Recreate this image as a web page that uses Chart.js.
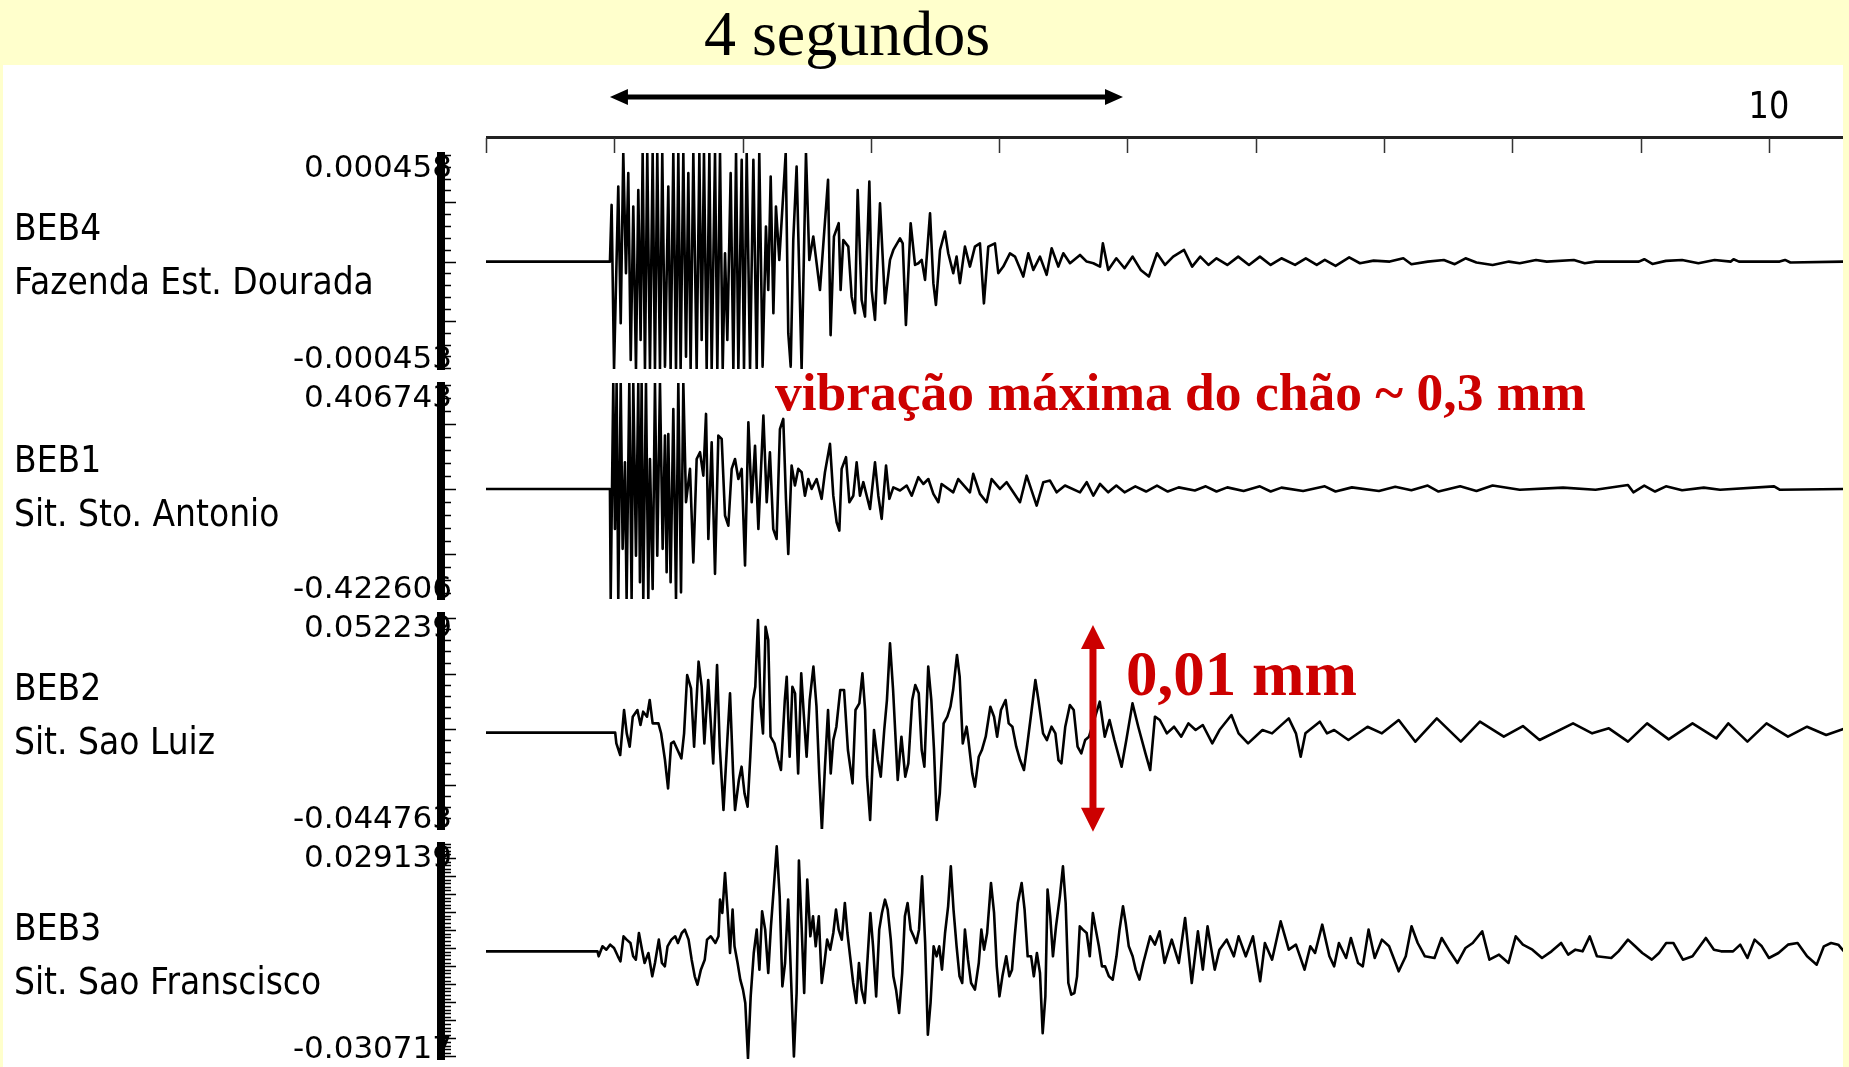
<!DOCTYPE html>
<html><head><meta charset="utf-8">
<script src="https://cdn.jsdelivr.net/npm/chart.js@4.4.1/dist/chart.umd.min.js"></script>
<style>
html,body{margin:0;padding:0;}
body{width:1849px;height:1067px;background:#ffffcc;position:relative;overflow:hidden;}
#white{position:absolute;left:3px;top:65px;width:1840px;height:1002px;background:#ffffff;}
canvas{position:absolute;left:0;top:0;}
</style></head><body>
<div id="white"></div>
<canvas id="c0" width="1849" height="1067"></canvas>
<canvas id="c1" width="1849" height="1067"></canvas>
<canvas id="c2" width="1849" height="1067"></canvas>
<canvas id="c3" width="1849" height="1067"></canvas>
<script>
// ---------- data ----------
const stationCodes = ['BEB4', 'BEB1', 'BEB2', 'BEB3'];
const stationNames = ['Fazenda Est. Dourada', 'Sit. Sto. Antonio', 'Sit. Sao Luiz', 'Sit. Sao Franscisco'];
const yMax = [0.000458, 0.406743, 0.052239, 0.029139];
const yMin = [-0.000453, -0.422606, -0.044763, -0.030717];
const yTopLabels = ['0.000458', '0.406743', '0.052239', '0.029139'];
const yBottomLabels = ['-0.000453', '-0.422606', '-0.044763', '-0.030717'];
const yMinorStep = [0.00005, 0.05, 0.005, 0.001];
const timeMin = 0, timeMax = 10.577;
const timeTicks = [0, 1, 2, 3, 4, 5, 6, 7, 8, 9, 10];
const timeTickLabels = ['', '', '', '', '', '', '', '', '', '', '10'];
const durationSpan = [0.966, 4.965];          // "4 segundos" arrow (s)
const durationLabel = '4 segundos';
const ampArrow = {t: 4.731, top: 0.0468, bottom: -0.046}; // red arrow on BEB2
const noteMax = 'vibração máxima do chão ~ 0,3 mm';
const noteAmp = '0,01 mm';

const beb4Time = [0,0.966,0.979,0.998,1.031,1.050,1.070,1.091,1.109,1.128,1.148,1.169,1.187,1.205,1.221,1.239,1.257,1.278,1.299,1.317,1.335,1.356,1.374,1.395,1.421,1.439,1.460,1.481,1.499,1.517,1.538,1.559,1.577,1.595,1.616,1.642,1.663,1.681,1.699,1.720,1.741,1.759,1.785,1.803,1.824,1.845,1.863,1.881,1.907,1.928,1.949,1.967,1.993,2.011,2.032,2.058,2.084,2.110,2.130,2.156,2.182,2.200,2.219,2.240,2.260,2.286,2.336,2.356,2.375,2.395,2.421,2.460,2.494,2.520,2.551,2.603,2.666,2.686,2.712,2.749,2.764,2.785,2.824,2.850,2.876,2.897,2.928,2.954,2.988,3.006,3.032,3.071,3.110,3.128,3.149,3.175,3.227,3.248,3.273,3.310,3.344,3.370,3.396,3.422,3.461,3.487,3.507,3.539,3.577,3.603,3.642,3.668,3.694,3.733,3.772,3.811,3.850,3.881,3.915,3.967,3.993,4.032,4.084,4.123,4.188,4.227,4.266,4.318,4.370,4.409,4.461,4.500,4.552,4.630,4.682,4.734,4.786,4.808,4.850,4.913,4.977,5.040,5.103,5.167,5.230,5.293,5.356,5.441,5.504,5.567,5.631,5.694,5.778,5.863,5.947,6.032,6.116,6.200,6.306,6.390,6.475,6.538,6.622,6.728,6.812,6.918,7.044,7.150,7.213,7.340,7.466,7.551,7.635,7.720,7.846,7.973,8.057,8.184,8.268,8.479,8.564,8.648,8.986,9.028,9.091,9.197,9.323,9.450,9.576,9.703,9.724,9.766,10.083,10.125,10.167,10.589];
const beb4Amp = [0,0,2.39e-4,-4.53e-4,3.17e-4,-2.60e-4,4.58e-4,-0.49e-4,3.73e-4,-4.15e-4,2.32e-4,-4.53e-4,3.02e-4,-3.31e-4,4.58e-4,-4.53e-4,4.58e-4,-4.53e-4,4.58e-4,-4.53e-4,4.58e-4,-4.53e-4,4.58e-4,-4.43e-4,3.17e-4,-4.53e-4,4.58e-4,-4.53e-4,4.58e-4,-4.53e-4,4.58e-4,-4.01e-4,3.73e-4,-4.53e-4,4.58e-4,-4.53e-4,4.58e-4,-3.31e-4,4.58e-4,-4.53e-4,4.58e-4,-4.53e-4,4.58e-4,-4.53e-4,4.58e-4,-4.53e-4,0.35e-4,-3.31e-4,3.73e-4,-4.53e-4,4.58e-4,-4.53e-4,4.29e-4,-4.53e-4,4.58e-4,-4.53e-4,4.29e-4,-4.53e-4,4.58e-4,-4.43e-4,1.48e-4,-1.20e-4,3.59e-4,-2.18e-4,2.32e-4,0.07e-4,4.58e-4,-3.02e-4,-4.43e-4,0.91e-4,4.01e-4,-4.53e-4,4.58e-4,0.07e-4,1.06e-4,-1.20e-4,3.45e-4,-3.10e-4,1.06e-4,1.62e-4,-1.20e-4,0.91e-4,0.63e-4,-1.48e-4,-2.18e-4,3.02e-4,-1.62e-4,-2.32e-4,3.38e-4,-1.20e-4,-2.46e-4,2.46e-4,-1.76e-4,-0.91e-4,0.07e-4,0.49e-4,0.98e-4,0.77e-4,-2.67e-4,1.62e-4,-0.14e-4,-0.07e-4,0.07e-4,-0.77e-4,2.04e-4,-0.91e-4,-1.83e-4,0.49e-4,1.27e-4,0.35e-4,-0.49e-4,0.21e-4,-0.91e-4,0.63e-4,-0.21e-4,0.63e-4,0.77e-4,-1.76e-4,0.63e-4,0.77e-4,-0.49e-4,-0.21e-4,0.35e-4,0.21e-4,-0.63e-4,0.35e-4,-0.35e-4,0.21e-4,-0.56e-4,0.56e-4,-0.21e-4,0.35e-4,-0.07e-4,0.28e-4,0,-0.07e-4,-0.21e-4,0.77e-4,-0.35e-4,0.14e-4,-0.28e-4,0.21e-4,-0.35e-4,-0.63e-4,0.35e-4,-0.14e-4,0.21e-4,0.49e-4,-0.21e-4,0.21e-4,-0.14e-4,0.14e-4,-0.14e-4,0.21e-4,-0.14e-4,0.21e-4,-0.14e-4,0.14e-4,-0.14e-4,0.14e-4,-0.14e-4,0.07e-4,-0.18e-4,0.18e-4,-0.07e-4,0.04e-4,0,0.14e-4,-0.11e-4,0,0.07e-4,-0.11e-4,0.14e-4,-0.04e-4,-0.14e-4,0,-0.07e-4,0.07e-4,0,0.07e-4,-0.07e-4,0,0,0.10e-4,-0.10e-4,0.03e-4,0.07e-4,-0.07e-4,0.07e-4,0,0.10e-4,0,0,0.07e-4,-0.04e-4,0];

const beb1Time = [0,0.966,0.972,0.992,1.005,1.018,1.031,1.050,1.065,1.083,1.096,1.117,1.135,1.148,1.169,1.187,1.200,1.213,1.226,1.247,1.265,1.278,1.299,1.317,1.335,1.356,1.377,1.395,1.408,1.421,1.439,1.460,1.481,1.499,1.520,1.538,1.559,1.590,1.616,1.642,1.668,1.694,1.715,1.733,1.759,1.785,1.811,1.837,1.863,1.889,1.915,1.941,1.967,1.993,2.019,2.045,2.071,2.097,2.123,2.162,2.188,2.213,2.239,2.265,2.291,2.317,2.338,2.356,2.382,2.408,2.434,2.460,2.486,2.512,2.538,2.577,2.616,2.642,2.681,2.707,2.733,2.754,2.772,2.806,2.832,2.863,2.889,2.915,2.941,2.993,3.032,3.058,3.084,3.118,3.144,3.175,3.227,3.279,3.318,3.370,3.409,3.448,3.487,3.526,3.551,3.642,3.681,3.772,3.798,3.850,3.902,3.941,4.006,4.058,4.162,4.214,4.292,4.344,4.396,4.448,4.513,4.630,4.682,4.734,4.786,4.850,4.913,4.977,5.061,5.145,5.230,5.314,5.399,5.525,5.610,5.694,5.778,5.905,6.032,6.116,6.200,6.369,6.538,6.622,6.749,6.960,7.087,7.213,7.340,7.424,7.593,7.720,7.846,8.057,8.395,8.648,8.901,8.943,9.028,9.112,9.197,9.323,9.492,9.619,10.040,10.083,10.589];
const beb1Amp = [0,0,-0.4226,0.4067,-0.154,0.4067,-0.4226,0.4067,-0.230,0.102,-0.4226,0.4067,-0.4226,0.4067,-0.256,0.4067,-0.358,0.4067,-0.4226,0.4067,-0.4226,0.115,-0.384,0.4067,-0.256,0.4067,-0.230,0.205,-0.320,0.211,-0.358,0.307,-0.4226,0.4067,-0.397,0.4067,-0.051,0.077,-0.282,0.115,0.141,0.051,0.288,-0.192,0.179,-0.326,0.205,0.192,-0.102,-0.141,0.077,0.115,0.038,0.077,-0.294,0.256,-0.051,0.166,-0.154,0.282,-0.051,0.141,-0.154,-0.192,0.230,0.269,-0.038,-0.250,0.090,0.013,0.077,0.064,-0.026,0.038,0,0.038,-0.038,0.064,0.173,-0.026,-0.128,-0.160,0.077,0.122,-0.051,-0.026,0.102,-0.026,0.026,-0.077,0.102,-0.026,-0.115,0.090,-0.038,0.006,-0.006,0.013,-0.026,0.045,0.019,0.038,-0.019,-0.051,0.019,-0.013,0.038,-0.013,0.058,-0.019,-0.051,0.038,0,0.026,-0.051,0.051,-0.064,0.026,0.032,-0.013,0.013,-0.013,0.026,-0.026,0.019,-0.013,0.013,-0.013,0.010,-0.010,0.013,-0.010,0.006,-0.006,0.010,-0.010,0.006,-0.008,0.010,-0.010,0.005,-0.008,0.010,-0.010,0.006,-0.008,0.008,-0.005,0.013,-0.010,0.010,-0.008,0.013,-0.003,0.005,-0.003,0.015,-0.013,0.013,-0.010,0.010,-0.005,0.005,-0.003,0.010,-0.003,0];

const beb2Time = [0,1.007,1.016,1.046,1.076,1.097,1.120,1.144,1.180,1.204,1.225,1.255,1.276,1.299,1.344,1.365,1.395,1.419,1.443,1.464,1.493,1.523,1.544,1.568,1.598,1.622,1.657,1.681,1.702,1.732,1.771,1.801,1.822,1.851,1.881,1.902,1.926,1.941,1.971,1.992,2.015,2.039,2.060,2.081,2.099,2.120,2.141,2.159,2.179,2.200,2.218,2.248,2.278,2.299,2.329,2.344,2.367,2.388,2.409,2.433,2.457,2.478,2.499,2.523,2.552,2.576,2.597,2.618,2.642,2.666,2.687,2.707,2.731,2.761,2.791,2.821,2.857,2.880,2.910,2.934,2.955,2.970,2.994,3.024,3.053,3.077,3.104,3.125,3.149,3.173,3.209,3.238,3.268,3.292,3.322,3.346,3.373,3.396,3.417,3.447,3.471,3.492,3.513,3.537,3.567,3.596,3.620,3.641,3.671,3.692,3.716,3.746,3.760,3.790,3.811,3.841,3.865,3.895,3.931,3.960,3.984,4.014,4.050,4.074,4.103,4.133,4.163,4.193,4.217,4.253,4.282,4.306,4.342,4.372,4.408,4.438,4.462,4.485,4.515,4.551,4.581,4.611,4.640,4.670,4.700,4.784,4.823,4.860,4.898,4.954,4.991,5.039,5.084,5.140,5.177,5.214,5.252,5.307,5.363,5.419,5.475,5.531,5.587,5.661,5.717,5.810,5.866,5.940,6.052,6.127,6.257,6.313,6.350,6.387,6.499,6.555,6.611,6.722,6.871,6.983,7.114,7.244,7.411,7.598,7.747,7.933,8.082,8.212,8.473,8.622,8.752,8.901,9.050,9.218,9.404,9.590,9.683,9.832,9.981,10.148,10.297,10.446,10.595];
const beb2Amp = [-0.0015,-0.0015,-0.00630,-0.01154,0.00867,-0.00181,-0.00780,0.00567,0.00867,0.00193,0.00792,0.00567,0.01316,0.00268,0.00268,-0.00181,-0.01379,-0.02651,-0.00630,-0.00555,-0.00930,-0.01304,-0.00181,0.02439,0.01840,-0.00780,0.03038,0.01915,-0.00630,0.02214,-0.01528,0.02889,-0.00780,-0.03624,-0.00480,0.01615,-0.01978,-0.03624,-0.02277,-0.01678,-0.02876,-0.03475,-0.01229,0.01316,0.01915,0.04909,0.01016,-0.00181,0.04609,0.04010,-0.00331,-0.00630,-0.01379,-0.01828,0.01316,0.02364,-0.01229,0.01915,0.01615,-0.01978,0.02514,0.00567,-0.01229,0.01316,0.02814,0.01016,-0.01978,-0.04522,-0.01678,0.00867,-0.01978,-0.00480,0.00118,0.01765,0.01765,-0.00930,-0.02427,0.00867,0.01166,0.02514,0.00867,-0.02127,-0.04073,-0.00031,-0.01379,-0.02127,-0.00031,0.01316,0.03861,0.01765,-0.02277,-0.00331,-0.02127,-0.01528,0.01316,0.01990,0.01615,-0.00930,-0.01678,0.02814,0.01316,-0.00930,-0.04073,-0.02876,0.00268,0.00567,0.01016,0.01765,0.03338,0.02364,-0.00630,0.00118,-0.00480,-0.01978,-0.02577,-0.01229,-0.00930,-0.00331,0.01016,0.00567,-0.00331,0.00867,0.01316,0.00268,0.00118,-0.00780,-0.01379,-0.01828,-0.00780,0.00867,0.02214,0.01316,-0.00181,-0.00480,0.00118,-0.00181,-0.01379,-0.01528,0.00118,0.01091,0.00867,-0.00780,-0.01079,-0.00480,-0.00331,0.01242,-0.00331,0.00418,-0.00480,-0.01678,-0.00480,0.01166,0.00118,-0.01079,-0.01828,0.00567,0.00418,-0.00181,0.00118,-0.00331,0.00268,-0.00031,0.00193,-0.00630,-0.00031,0.00642,-0.00181,-0.00630,-0.00031,-0.00181,0.00493,-0.00181,-0.01229,-0.00181,0.00343,-0.00181,-0.00031,-0.00480,0.00118,-0.00181,0.00418,-0.00555,0.00493,-0.00555,0.00343,-0.00331,0.00148,-0.00480,0.00268,-0.00181,0.00043,-0.00555,0.00268,-0.00450,0.00268,-0.00405,0.00268,-0.00555,0.00268,-0.00331,0.00118,-0.00256,0.00043];

const beb3Time = [0,0.869,0.878,0.908,0.938,0.968,0.998,1.028,1.048,1.072,1.096,1.126,1.147,1.168,1.192,1.216,1.236,1.266,1.296,1.317,1.347,1.371,1.394,1.415,1.445,1.475,1.496,1.526,1.550,1.579,1.603,1.627,1.648,1.675,1.705,1.723,1.752,1.788,1.812,1.824,1.842,1.863,1.884,1.902,1.922,1.937,1.961,1.982,2.003,2.021,2.042,2.063,2.087,2.110,2.131,2.152,2.176,2.200,2.221,2.242,2.266,2.289,2.310,2.331,2.355,2.379,2.400,2.421,2.439,2.459,2.480,2.504,2.528,2.549,2.570,2.594,2.617,2.638,2.659,2.683,2.707,2.728,2.749,2.773,2.797,2.817,2.838,2.862,2.886,2.907,2.928,2.952,2.975,2.996,3.017,3.041,3.065,3.086,3.110,3.131,3.155,3.175,3.196,3.220,3.244,3.265,3.286,3.310,3.333,3.354,3.375,3.399,3.423,3.444,3.465,3.489,3.512,3.533,3.554,3.578,3.602,3.623,3.644,3.668,3.691,3.712,3.733,3.757,3.781,3.811,3.841,3.861,3.882,3.906,3.936,3.960,3.981,4.002,4.025,4.055,4.079,4.100,4.121,4.145,4.175,4.198,4.222,4.249,4.270,4.294,4.318,4.339,4.360,4.377,4.398,4.419,4.443,4.473,4.497,4.518,4.539,4.562,4.586,4.607,4.628,4.652,4.682,4.706,4.730,4.753,4.777,4.801,4.825,4.855,4.885,4.914,4.938,4.965,4.986,5.010,5.040,5.064,5.093,5.123,5.177,5.214,5.251,5.289,5.345,5.400,5.449,5.501,5.549,5.587,5.624,5.680,5.717,5.773,5.829,5.866,5.922,5.978,6.034,6.071,6.127,6.194,6.257,6.313,6.380,6.425,6.462,6.518,6.574,6.611,6.648,6.704,6.741,6.797,6.834,6.879,6.927,6.983,7.039,7.114,7.169,7.214,7.262,7.318,7.393,7.449,7.504,7.572,7.635,7.691,7.765,7.821,7.896,7.970,8.026,8.082,8.156,8.231,8.305,8.380,8.435,8.491,8.547,8.603,8.659,8.771,8.827,8.901,8.957,9.013,9.087,9.143,9.199,9.255,9.329,9.404,9.508,9.571,9.627,9.720,9.776,9.832,9.888,9.944,10.000,10.074,10.148,10.223,10.297,10.372,10.428,10.484,10.540,10.595];
const beb3Amp = [-0.00088,-0.00088,-0.00226,0.00051,-0.00042,0.00097,0.00005,-0.00226,-0.00365,0.00328,0.00236,0.00143,-0.00226,-0.00319,0.00420,-0.00042,-0.00411,-0.00134,-0.00781,-0.00411,0.00236,-0.00411,-0.00504,0.00051,0.00236,0.00328,0.00143,0.00420,0.00513,0.00236,-0.00319,-0.00781,-0.01012,-0.00596,-0.00319,0.00236,0.00328,0.00143,0.00328,0.01344,0.00975,0.02084,0.00975,-0.00134,0.01067,0.00051,-0.00411,-0.00873,-0.01150,-0.01520,-0.0305,-0.01335,-0.00134,0.00513,-0.00596,0.01021,0.00513,-0.00688,0.00605,0.01622,0.02823,0.01437,-0.01058,-0.00411,0.01344,-0.00966,-0.02998,-0.01243,0.02430,0.00698,-0.01243,0.01899,0.00328,0.00882,0.00051,0.00882,-0.00966,-0.00411,0.00236,-0.00042,0.00420,0.01067,0.00513,0.00236,0.01252,0.00420,-0.00226,-0.00966,-0.01520,-0.00411,-0.01150,-0.01520,-0.00226,0.00975,0.00051,-0.01335,0.00513,0.00975,0.01344,0.01067,0.00236,-0.00781,-0.01150,-0.01798,-0.00688,0.00882,0.01252,0.00513,0.00328,0.00143,0.00513,0.01991,0.00143,-0.02398,-0.01520,0.00051,-0.00226,0.00051,-0.00596,0.00420,0.01160,0.02268,0.01067,0.00051,-0.00781,-0.00966,0.00513,-0.00319,-0.00966,-0.01150,-0.00411,0.00513,-0.00042,0.00420,0.01806,0.00975,-0.00504,-0.01335,-0.00781,-0.00226,-0.00781,-0.00596,0.00328,0.01252,0.01806,0.01067,-0.00226,-0.00226,-0.00781,-0.00134,-0.00688,-0.02356,-0.01335,0.01622,0.00882,-0.00226,0.00605,0.01437,0.02268,0.01252,-0.00966,-0.01289,-0.01243,-0.00781,0.00605,0.00513,0.00420,-0.00226,0.00975,0.00513,0.00051,-0.00504,-0.00504,-0.00781,-0.00873,-0.00226,0.00513,0.01160,0.00698,0.00051,-0.00226,-0.00596,-0.00873,-0.00411,0.00328,0.00097,0.00467,-0.00411,0.00236,-0.00411,0.00836,-0.00966,0.00467,-0.00596,0.00605,-0.00596,-0.00042,0.00236,-0.00226,0.00328,-0.00226,0.00328,-0.00919,0.00143,-0.00319,0.00744,-0.00042,0.00097,-0.00596,0.00051,-0.00134,0.00651,-0.00226,-0.00504,0.00143,-0.00273,0.00282,-0.00411,-0.00504,0.00513,-0.00273,0.00236,0.00051,-0.00642,-0.00226,0.00605,0.00143,-0.00226,-0.00273,0.00282,-0.00042,-0.00411,0.00005,0.00143,0.00467,-0.00319,-0.00180,-0.00411,0.00328,0.00097,-0.00042,-0.00273,-0.00088,0.00143,-0.00180,-0.00042,-0.00088,0.00328,-0.00226,-0.00273,-0.00088,0.00236,0.00051,-0.00134,-0.00319,-0.00134,0.00143,0.00143,-0.00319,-0.00226,0.00282,-0.00042,-0.00088,-0.00088,0.00097,-0.00273,0.00236,0.00051,-0.00273,-0.00134,0.00097,0.00143,-0.00226,-0.00457,0.00051,0.00143,0.00097,-0.00134];

const traceTimes = [beb4Time, beb1Time, beb2Time, beb3Time];
const traceAmps = [beb4Amp, beb1Amp, beb2Amp, beb3Amp];

// ---------- layout (pixels, not data) ----------
const W = 1849, H = 1067;
const plotLeft = 486, plotRight = 1843;
const panelTop = [153, 383, 613, 843];
const panelH = 216;
const labelBase = [87, 89, 87, 97];
const RED = '#cc0000';

function stretchedText(ctx, txt, x, y, font, sy, align) {
  ctx.save();
  ctx.font = font;
  ctx.textAlign = align || 'left';
  ctx.textBaseline = 'alphabetic';
  ctx.translate(x, y);
  ctx.scale(1, sy);
  ctx.fillText(txt, 0, 0);
  ctx.restore();
}

function decor(i) {
  return {
    id: 'decor' + i,
    afterDraw(chart) {
      const ctx = chart.ctx, xs = chart.scales.x, ys = chart.scales.y, a = chart.chartArea;
      ctx.save();
      ctx.fillStyle = '#000';
      // station labels
      stretchedText(ctx, stationCodes[i], 14, a.top + labelBase[i], '33px "DejaVu Sans"', 1.13);
      stretchedText(ctx, stationNames[i], 14, a.top + labelBase[i] + 54, '33px "DejaVu Sans"', 1.13);
      // y range labels
      ctx.font = '31px "DejaVu Sans"';
      ctx.textAlign = 'right';
      ctx.textBaseline = 'alphabetic';
      ctx.fillText(yTopLabels[i], 452, ys.getPixelForValue(yMax[i]) + 24);
      ctx.fillText(yBottomLabels[i], 452, ys.getPixelForValue(yMin[i]) - 1);
      // axis bar
      const yt = ys.getPixelForValue(yMax[i]), yb = ys.getPixelForValue(yMin[i]);
      ctx.fillRect(437, yt - 1, 8, yb - yt + 2);
      // minor ticks
      ctx.strokeStyle = '#000';
      ctx.lineWidth = 1.5;
      const st = yMinorStep[i];
      const k0 = Math.ceil(yMin[i] / st), k1 = Math.floor(yMax[i] / st);
      ctx.beginPath();
      for (let k = k0; k <= k1; k++) {
        const py = Math.round(ys.getPixelForValue(k * st)) + 0.5;
        const len = (k % 5 === 0) ? 11 : 6;
        ctx.moveTo(445, py); ctx.lineTo(445 + len, py);
      }
      ctx.stroke();

      if (i === 0) {
        // top time axis
        ctx.fillStyle = '#222';
        ctx.fillRect(xs.getPixelForValue(timeMin), 136, xs.getPixelForValue(timeMax) - xs.getPixelForValue(timeMin), 3);
        ctx.strokeStyle = '#333';
        ctx.lineWidth = 1.5;
        ctx.beginPath();
        timeTicks.forEach(t => {
          const px = Math.round(xs.getPixelForValue(t)) + 0.5;
          ctx.moveTo(px, 138); ctx.lineTo(px, 153);
        });
        ctx.stroke();
        ctx.fillStyle = '#000';
        timeTicks.forEach((t, k) => {
          if (timeTickLabels[k]) stretchedText(ctx, timeTickLabels[k], xs.getPixelForValue(t), 118, '32px "DejaVu Sans"', 1.14, 'center');
        });
        // 4 segundos arrow
        const x1 = xs.getPixelForValue(durationSpan[0]), x2 = xs.getPixelForValue(durationSpan[1]);
        const ay = 97;
        ctx.fillStyle = '#000';
        ctx.fillRect(x1 + 12, ay - 2.5, x2 - x1 - 24, 5);
        ctx.beginPath();
        ctx.moveTo(x1, ay); ctx.lineTo(x1 + 18, ay - 8); ctx.lineTo(x1 + 18, ay + 8); ctx.closePath();
        ctx.moveTo(x2, ay); ctx.lineTo(x2 - 18, ay - 8); ctx.lineTo(x2 - 18, ay + 8); ctx.closePath();
        ctx.fill();
        ctx.font = '64px "Liberation Serif"';
        ctx.textAlign = 'center';
        ctx.textBaseline = 'alphabetic';
        ctx.fillText(durationLabel, 847, 55);
      }
      if (i === 1) {
        ctx.fillStyle = RED;
        ctx.font = 'bold 53.5px "Liberation Serif"';
        ctx.textAlign = 'left';
        ctx.textBaseline = 'alphabetic';
        ctx.fillText(noteMax, 775, 410);
      }
      if (i === 2) {
        const ax = xs.getPixelForValue(ampArrow.t);
        const y1 = ys.getPixelForValue(ampArrow.top), y2 = ys.getPixelForValue(ampArrow.bottom);
        ctx.fillStyle = RED;
        ctx.fillRect(ax - 3.5, y1 + 18, 7, y2 - y1 - 36);
        ctx.beginPath();
        ctx.moveTo(ax, y1); ctx.lineTo(ax - 12, y1 + 24); ctx.lineTo(ax + 12, y1 + 24); ctx.closePath();
        ctx.moveTo(ax, y2); ctx.lineTo(ax - 12, y2 - 24); ctx.lineTo(ax + 12, y2 - 24); ctx.closePath();
        ctx.fill();
        ctx.font = 'bold 63px "Liberation Serif"';
        ctx.textAlign = 'left';
        ctx.textBaseline = 'alphabetic';
        ctx.fillText(noteAmp, 1126, 695);
      }
      ctx.restore();
    }
  };
}

for (let i = 0; i < 4; i++) {
  const pts = traceTimes[i].map((t, k) => ({x: t, y: traceAmps[i][k]}));
  new Chart(document.getElementById('c' + i), {
    type: 'line',
    data: {datasets: [{data: pts, borderColor: '#000', borderWidth: 2.6, borderJoinStyle: 'round',
      pointRadius: 0, tension: 0, fill: false}]},
    options: {
      responsive: false, animation: false, events: [],
      layout: {padding: {left: plotLeft, right: W - plotRight, top: panelTop[i], bottom: H - panelTop[i] - panelH}},
      plugins: {legend: {display: false}, tooltip: {enabled: false}, title: {display: false}},
      scales: {
        x: {type: 'linear', min: timeMin, max: timeMax, display: false},
        y: {type: 'linear', min: yMin[i], max: yMax[i], display: false}
      }
    },
    plugins: [decor(i)]
  });
}
</script>
</body></html>
